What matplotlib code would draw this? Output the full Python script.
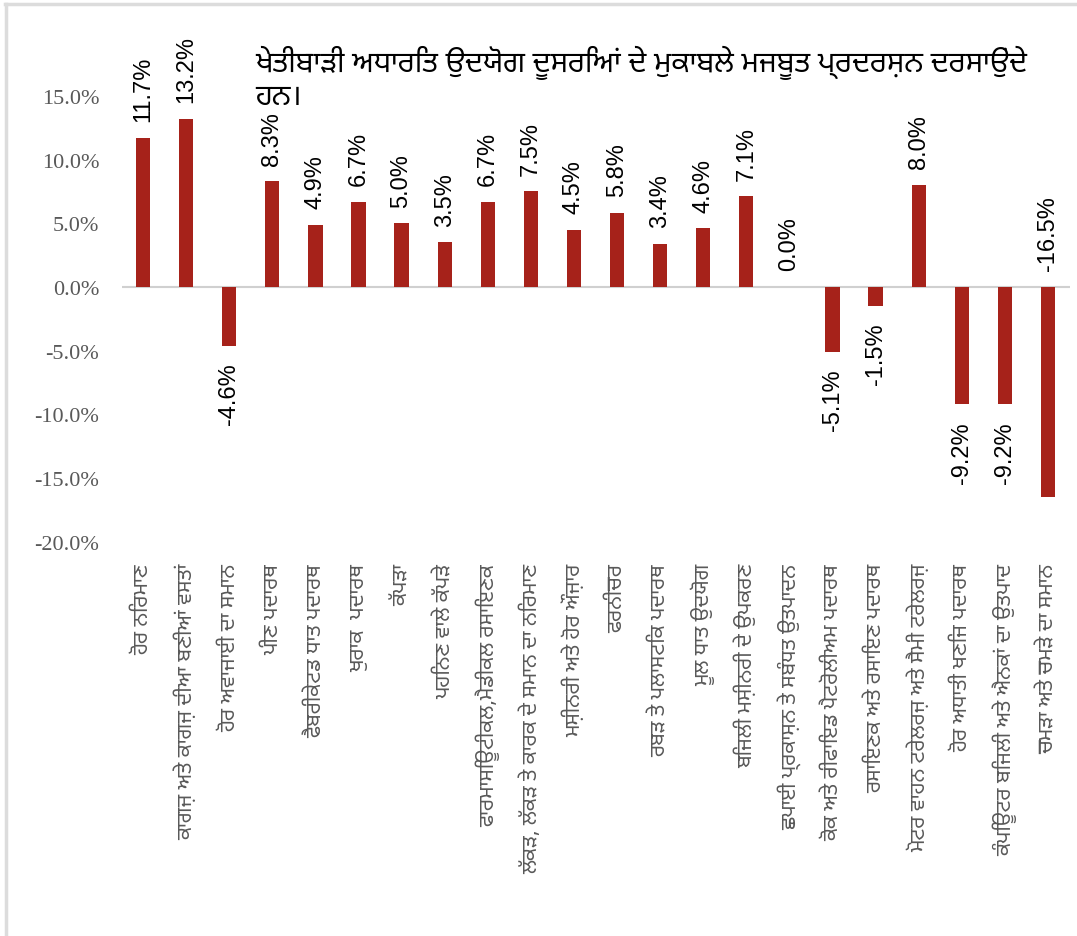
import matplotlib
matplotlib.use("Agg")
import matplotlib.pyplot as plt
from matplotlib import font_manager
from matplotlib.ft2font import FT2Font
from matplotlib.lines import Line2D

categories = [
    "ਹੋਰ ਨਿਰਮਾਣ",
    "ਕਾਗਜ਼ ਅਤੇ ਕਾਗਜ਼ ਦੀਆ ਬਣੀਆਂ ਵਸਤਾਂ",
    "ਹੋਰ ਅਵਾਜਾਈ ਦਾ ਸਮਾਨ",
    "ਪੀਣ ਪਦਾਰਥ",
    "ਫੈਬਰੀਕੇਟਡ ਧਾਤ ਪਦਾਰਥ",
    "ਖੁਰਾਕ  ਪਦਾਰਥ",
    "ਕੱਪੜਾ",
    "ਪਹਿਨਣ ਵਾਲੇ ਕੱਪੜੇ",
    "ਫਾਰਮਾਸਿਊਟੀਕਲ,ਮੈਡੀਕਲ ਰਸਾਇਣਕ",
    "ਲੱਕੜ, ਲੱਕੜ ਤੇ ਕਾਰਕ ਦੇ ਸਮਾਨ ਦਾ ਨਿਰਮਾਣ",
    "ਮਸ਼ੀਨਰੀ ਅਤੇ ਹੋਰ ਔਜ਼ਾਰ",
    "ਫਰਨੀਚਰ",
    "ਰਬੜ ਤੇ ਪਲਾਸਟਿਕ ਪਦਾਰਥ",
    "ਮੂਲ ਧਾਤ ਉਦਯੋਗ",
    "ਬਿਜਲੀ ਮਸ਼ੀਨਰੀ ਦੇ ਉਪਕਰਣ",
    "ਛਪਾਈ ਪ੍ਰਕਾਸ਼ਨ ਤੇ ਸਬੰਧਤ ਉਤਪਾਦਨ",
    "ਕੋਕ ਅਤੇ ਰੀਫਾਇਡ ਪੈਟਰੋਲੀਅਮ ਪਦਾਰਥ",
    "ਰਸਾਇਣਕ ਅਤੇ ਰਸਾਇਣ ਪਦਾਰਥ",
    "ਮੋਟਰ ਵਾਹਨ ਟਰੇਲਰਜ਼ ਅਤੇ ਸੈਮੀ ਟਰੇਲਰਜ਼",
    "ਹੋਰ ਅਧਾਤੀ ਖਣਿਜ ਪਦਾਰਥ",
    "ਕੰਪਿਊਟਰ ਬਿਜਲੀ ਅਤੇ ਐਨਕਾਂ ਦਾ ਉਤਪਾਦ",
    "ਚਮੜਾ ਅਤੇ ਚਮੜੇ ਦਾ ਸਮਾਨ",
]
values = [11.7, 13.2, -4.6, 8.3, 4.9, 6.7, 5.0, 3.5, 6.7, 7.5, 4.5,
          5.8, 3.4, 4.6, 7.1, 0.0, -5.1, -1.5, 8.0, -9.2, -9.2, -16.5]
yticks = [-20, -15, -10, -5, 0, 5, 10, 15]
ytick_labels = [f"{v:.1f}%" for v in yticks]
title = "ਖੇਤੀਬਾੜੀ ਅਧਾਰਿਤ ਉਦਯੋਗ ਦੂਸਰਿਆਂ ਦੇ ਮੁਕਾਬਲੇ ਮਜਬੂਤ ਪ੍ਰਦਰਸ਼ਨ ਦਰਸਾਉਂਦੇ\nਹਨ।"

# find a font covering Gurmukhi (prefer Noto / Gurmukhi-named fonts)
cands = []
for fe in font_manager.fontManager.ttflist:
    try:
        ft = FT2Font(fe.fname)
        if ft.get_char_index(0x0A15) and ft.get_char_index(0x0A3E):
            cands.append(fe.name)
    except Exception:
        pass
cands.sort(key=lambda n: (0 if "Gurmukhi" in n else 1, 0 if "Noto" in n else 1, n))
gur_fams = cands[:1] + ["Liberation Sans", "DejaVu Sans"]

fig = plt.figure(figsize=(10.77, 9.37), dpi=100)
ax = fig.add_axes([121.5 / 1077, 1 - 543 / 937, 948 / 1077, 510 / 937])

x = list(range(len(values)))
bar_color = "#A6221A"
ax.bar(x, values, width=0.33, color=bar_color, zorder=2)
ax.set_xlim(-0.5, len(values) - 0.5)
ax.set_ylim(-20, 20)
ax.axhline(0, color="#D0D0D0", lw=1.5, zorder=1)

for s in ax.spines.values():
    s.set_visible(False)
ax.set_yticks(yticks)
ax.set_yticklabels(ytick_labels, family="Liberation Serif", fontsize=16, color="#595959")
ax.tick_params(axis="y", length=0, pad=16)
ax.set_xticks(x)
ax.set_xticklabels(categories, rotation=90, family=gur_fams, fontsize=15,
                   color="#595959", va="top", ha="center")
ax.tick_params(axis="x", length=0, pad=15)

for xi, v in zip(x, values):
    lab = f"{v:.1f}%"
    if v >= 0 or v < -15:
        base = max(v, 0)
        ax.annotate(lab, (xi, base), xytext=(0, 12), textcoords="offset points",
                    rotation=90, ha="center", va="bottom", fontsize=17,
                    family="Liberation Sans", color="black", clip_on=False)
    else:
        ax.annotate(lab, (xi, v), xytext=(0, -12), textcoords="offset points",
                    rotation=90, ha="center", va="top", fontsize=17,
                    family="Liberation Sans", color="black", clip_on=False)

fig.text(255 / 1077, 1 - 46 / 937, title, family=gur_fams, fontsize=21,
         ha="left", va="top", color="black", linespacing=1.15)

# figure border (top and left)
fig.add_artist(Line2D([5 / 1077, 1], [1 - 5 / 937, 1 - 5 / 937], transform=fig.transFigure,
                      color="#DCDCDC", lw=2.5))
fig.add_artist(Line2D([6 / 1077, 6 / 1077], [0, 1 - 5 / 937], transform=fig.transFigure,
                      color="#DCDCDC", lw=2.5))

fig.savefig("out.png", dpi=100)
